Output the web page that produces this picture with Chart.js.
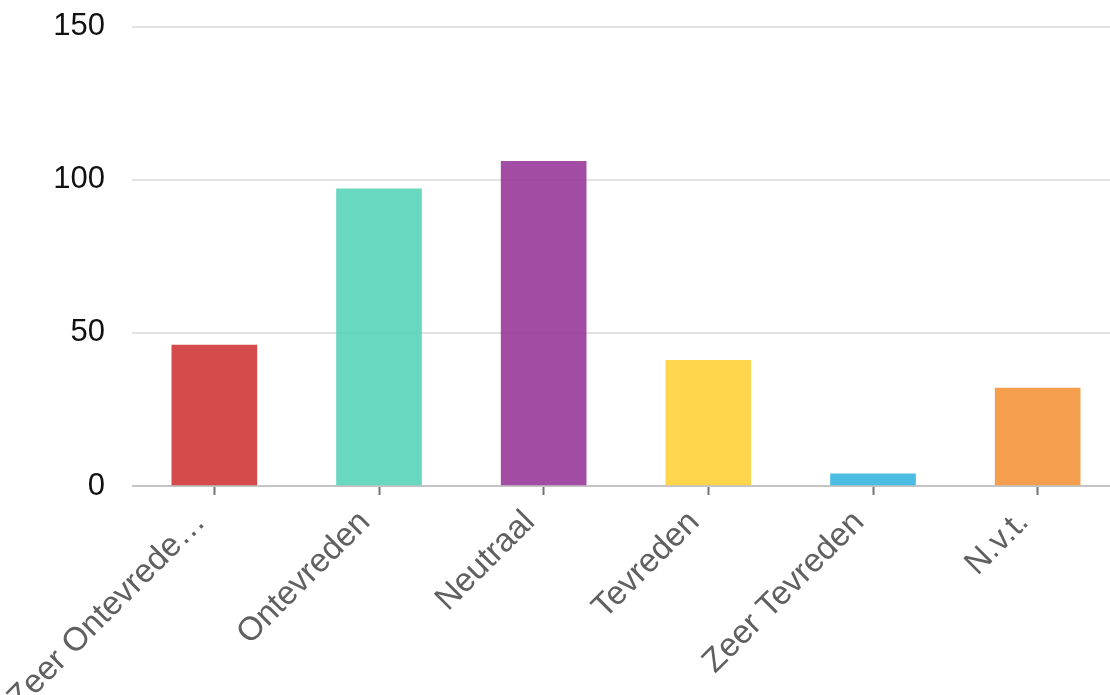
<!DOCTYPE html>
<html>
<head>
<meta charset="utf-8">
<script src="https://cdn.jsdelivr.net/npm/chart.js@4/dist/chart.umd.min.js"></script>
<style>
  html, body { margin: 0; padding: 0; background: #fff; overflow: hidden; }
  #wrap { position: absolute; left: 0; top: -19px; width: 1120px; height: 714px; }
</style>
</head>
<body>
<div id="wrap"><canvas id="c"></canvas></div>
<script>
const categories = ["Zeer Ontevrede…", "Ontevreden", "Neutraal", "Tevreden", "Zeer Tevreden", "N.v.t."];
const values = [46, 97, 106, 41, 4, 32];
const barColors = [
  "rgba(208,55,57,0.9)",
  "rgba(89,212,185,0.9)",
  "rgba(153,56,153,0.9)",
  "rgba(255,208,59,0.9)",
  "rgba(55,182,224,0.9)",
  "rgba(244,149,59,0.9)"
];
const yTicks = [0, 50, 100, 150];

new Chart(document.getElementById('c'), {
  type: 'bar',
  data: {
    labels: categories,
    datasets: [{
      data: values,
      backgroundColor: barColors,
      borderWidth: 0,
      barThickness: 85
    }]
  },
  options: {
    responsive: true,
    maintainAspectRatio: false,
    animation: false,
    layout: { padding: { top: 26, right: 0, left: 0, bottom: 0 } },
    plugins: { legend: { display: false }, tooltip: { enabled: false } },
    scales: {
      x: {
        grid: {
          display: true,
          drawOnChartArea: false,
          drawTicks: true,
          offset: false,
          tickLength: 9,
          tickWidth: 2,
          tickColor: '#757575',
          color: '#757575'
        },
        border: { display: false },
        ticks: {
          autoSkip: false,
          maxRotation: 45,
          minRotation: 45,
          padding: 8,
          labelOffset: -14,
          color: '#606060',
          font: { family: 'Liberation Sans, Arial, sans-serif', size: 33 }
        },
        afterFit: (s) => { s.height = 209; }
      },
      y: {
        min: 0,
        max: 150,
        afterBuildTicks: (s) => { s.ticks = yTicks.map(v => ({ value: v })); },
        grid: {
          drawTicks: false,
          lineWidth: 2,
          color: (ctx) => ctx.tick && ctx.tick.value === 0 ? '#c4c4c4' : '#e2e2e2'
        },
        border: { display: false },
        ticks: {
          padding: 27,
          color: '#111',
          font: { family: 'Liberation Sans, Arial, sans-serif', size: 31 }
        },
        afterFit: (s) => { s.width = 132; }
      }
    }
  }
});
</script>
</body>
</html>
